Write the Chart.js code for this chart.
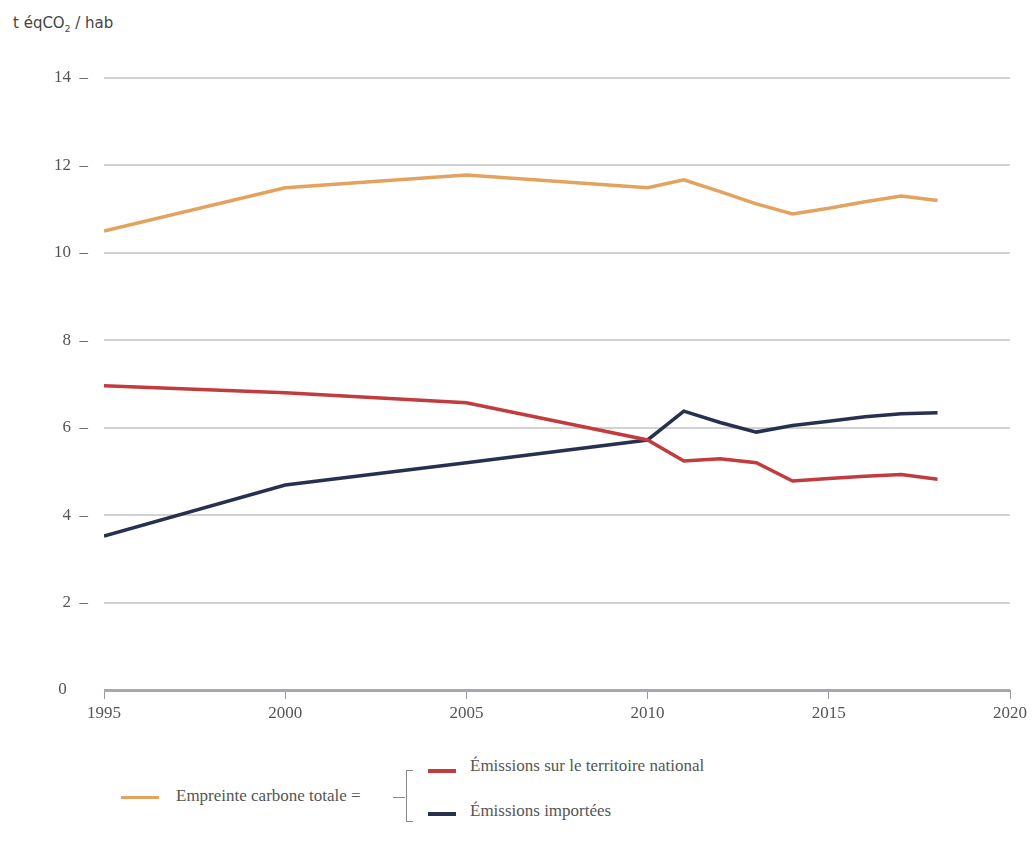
<!DOCTYPE html>
<html>
<head>
<meta charset="utf-8">
<script src="https://cdn.jsdelivr.net/npm/chart.js@4.4.1/dist/chart.umd.min.js"></script>
<style>
  body { margin: 0; background: #fff; width: 1032px; height: 841px; position: relative; overflow: hidden; }
  #wrap { position: absolute; left: 0; top: 0; width: 1032px; height: 740px; }
  #unit { position: absolute; left: 13px; top: 14px; font-family: "DejaVu Sans", sans-serif; font-size: 15px; color: #444; }
  .leg { position: absolute; font-family: "Liberation Serif", serif; font-size: 17px; color: #555; white-space: nowrap; }
  .sw { position: absolute; height: 3px; }
</style>
</head>
<body>
<div id="unit">t éqCO<sub style="font-size:9px">2</sub> / hab</div>
<div id="wrap"><canvas id="chart"></canvas></div>

<div class="sw" style="left:121px; top:796px; width:38px; background:#e3a35f;"></div>
<div class="leg" style="left:176px; top:786px;">Empreinte carbone totale =</div>
<div class="sw" style="left:393px; top:797px; width:12px; height:1px; background:#888;"></div>
<div style="position:absolute; left:406px; top:770px; width:6px; height:50px; border:1px solid #888; border-right:none;"></div>
<div class="sw" style="left:428px; top:769px; width:28px; height:4px; background:#c23b3e;"></div>
<div class="leg" style="left:470px; top:756px;">Émissions sur le territoire national</div>
<div class="sw" style="left:428px; top:812px; width:28px; height:4px; background:#27304f;"></div>
<div class="leg" style="left:470px; top:801px;">Émissions importées</div>

<script>
const years = [1995, 2000, 2005, 2010, 2011, 2012, 2013, 2014, 2015, 2016, 2017, 2018];
const totalFootprint = [10.5, 11.49, 11.78, 11.49, 11.67, 11.4, 11.12, 10.89, 11.02, 11.17, 11.3, 11.2];
const nationalEmissions = [6.96, 6.8, 6.57, 5.72, 5.24, 5.29, 5.2, 4.78, 4.84, 4.89, 4.93, 4.82];
const importedEmissions = [3.52, 4.69, 5.2, 5.72, 6.38, 6.12, 5.9, 6.05, 6.15, 6.25, 6.32, 6.34];
const yTicks = [0, 2, 4, 6, 8, 10, 12, 14];
const xTicks = [1995, 2000, 2005, 2010, 2015, 2020];

const toPoints = vals => years.map((yr, i) => ({ x: yr, y: vals[i] }));

new Chart(document.getElementById('chart'), {
    type: 'line',
    data: {
        datasets: [
            { label: 'Empreinte carbone totale', data: toPoints(totalFootprint), borderColor: '#e3a35f', borderWidth: 3.5 },
            { label: 'Émissions sur le territoire national', data: toPoints(nationalEmissions), borderColor: '#c23b3e', borderWidth: 3.5 },
            { label: 'Émissions importées', data: toPoints(importedEmissions), borderColor: '#27304f', borderWidth: 3.5 }
        ]
    },
    options: {
        responsive: true,
        maintainAspectRatio: false,
        animation: false,
        elements: { point: { radius: 0 }, line: { tension: 0 } },
        layout: { padding: { top: 78, right: 22, left: 0, bottom: 0 } },
        plugins: { legend: { display: false }, tooltip: { enabled: false } },
        scales: {
            x: {
                type: 'linear',
                min: 1995,
                max: 2020,
                afterBuildTicks: axis => { axis.ticks = xTicks.map(v => ({ value: v })); },
                afterFit: axis => { axis.height = 50; },
                border: { display: false },
                grid: { drawOnChartArea: false, drawTicks: true, tickLength: 9, color: '#999', lineWidth: 1 },
                ticks: {
                    color: '#555',
                    font: { family: 'Liberation Serif', size: 17 },
                    padding: 4,
                    callback: v => String(v)
                }
            },
            y: {
                min: 0,
                max: 14,
                afterBuildTicks: axis => { axis.ticks = yTicks.map(v => ({ value: v })); },
                afterFit: axis => { axis.width = 104; },
                border: { display: false },
                grid: {
                    drawTicks: false,
                    color: ctx => ctx.tick && ctx.tick.value === 0 ? '#a3a7b6' : '#d2d2d2',
                    lineWidth: ctx => ctx.tick && ctx.tick.value === 0 ? 3 : 2
                },
                ticks: {
                    color: '#555',
                    font: { family: 'Liberation Serif', size: 17 },
                    padding: 16,
                    callback: v => v === 0 ? '0     ' : v + '  –'
                }
            }
        }
    }
});
</script>
</body>
</html>
